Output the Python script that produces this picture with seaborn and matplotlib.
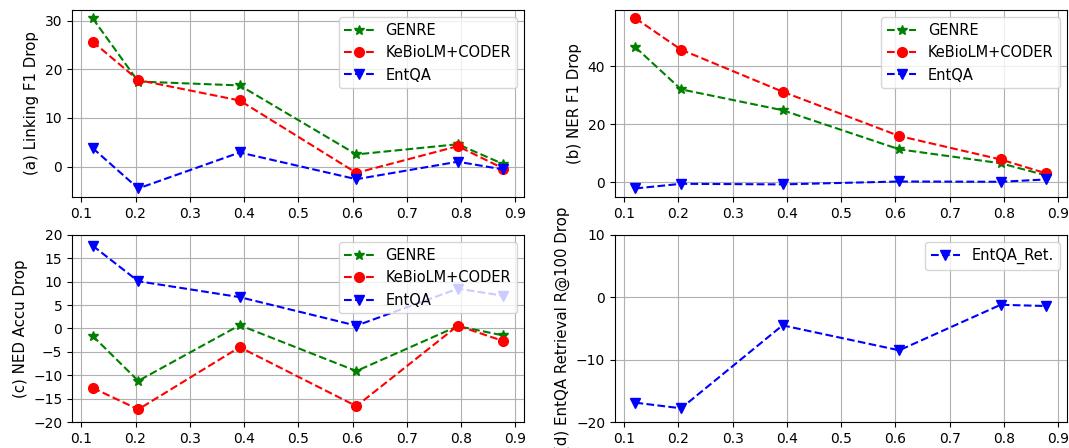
import matplotlib
matplotlib.use("Agg")
import matplotlib.pyplot as plt
import seaborn as sns

# x positions (ratio) shared by all panels
x_vals = [0.121, 0.205, 0.392, 0.607, 0.794, 0.878]

# (a) Linking F1 drop
link_genre = [30.5, 17.5, 16.7, 2.5, 4.6, 0.5]
link_kebio = [25.7, 17.8, 13.6, -1.3, 4.2, -0.4]
link_entqa = [3.8, -4.5, 2.9, -2.6, 1.0, -0.6]

# (b) NER F1 drop
ner_genre = [46.5, 32.0, 24.8, 11.3, 6.5, 2.3]
ner_kebio = [56.5, 45.7, 31.2, 15.9, 7.8, 3.0]
ner_entqa = [-2.2, -0.6, -0.8, 0.2, 0.1, 0.9]

# (c) NED accuracy drop
ned_genre = [-1.6, -11.2, 0.7, -9.1, 0.5, -1.5]
ned_kebio = [-12.7, -17.3, -4.0, -16.6, 0.6, -2.7]
ned_entqa = [17.7, 10.1, 6.7, 0.6, 8.5, 7.0]

# (d) EntQA retrieval R@100 drop
ret_entqa = [-16.9, -17.8, -4.5, -8.5, -1.2, -1.4]

sns.set_style("ticks", {"axes.grid": True, "grid.color": "#b0b0b0",
                        "axes.edgecolor": "black", "xtick.color": "black",
                        "ytick.color": "black", "axes.labelcolor": "black",
                        "text.color": "black"})
plt.rcParams['font.family'] = ['DejaVu Sans']
plt.rcParams['font.size'] = 10
plt.rcParams['axes.labelsize'] = 10.8
plt.rcParams['xtick.labelsize'] = 10
plt.rcParams['ytick.labelsize'] = 10
plt.rcParams['legend.fontsize'] = 10.5

fig, axes = plt.subplots(2, 2, figsize=(10.69, 4.48), dpi=100)
fig.subplots_adjust(left=0.0674, right=0.998, top=0.978, bottom=0.058,
                    wspace=0.201, hspace=0.203)


def draw(ax, y, label, marker, color, ms=7):
    sns.lineplot(x=x_vals, y=y, ax=ax, label=label, marker=marker, color=color,
                 linestyle='--', markersize=ms, markeredgecolor=color,
                 markeredgewidth=1)


panels = [
    (axes[0, 0], link_genre, link_kebio, link_entqa, "(a) Linking F1 Drop"),
    (axes[0, 1], ner_genre, ner_kebio, ner_entqa, "(b) NER F1 Drop"),
    (axes[1, 0], ned_genre, ned_kebio, ned_entqa, "(c) NED Accu Drop"),
]
for ax, g, k, e, ylab in panels:
    draw(ax, g, "GENRE", "*", "green")
    draw(ax, k, "KeBioLM+CODER", "o", "red")
    draw(ax, e, "EntQA", "v", "blue")
    ax.set_ylabel(ylab)
    ax.legend(loc="upper right")

axes[1, 0].set_ylim(-20, 20)
axes[1, 0].set_yticks(range(-20, 21, 5))

ax = axes[1, 1]
draw(ax, ret_entqa, "EntQA_Ret.", "v", "blue")
ax.set_ylim(-20, 10)
ax.set_yticks([-20, -10, 0, 10])
ax.set_ylabel("(d) EntQA Retrieval R@100 Drop")
ax.legend(loc="upper right")

for ax in axes.flat:
    ax.set_xticks([0.1, 0.2, 0.3, 0.4, 0.5, 0.6, 0.7, 0.8, 0.9])
    ax.set_xlim(0.083, 0.916)
    ax.tick_params(direction="out", length=3.5, width=0.8)
    for s in ax.spines.values():
        s.set_visible(True)
        s.set_linewidth(0.8)

fig.savefig("out.png", dpi=100)
